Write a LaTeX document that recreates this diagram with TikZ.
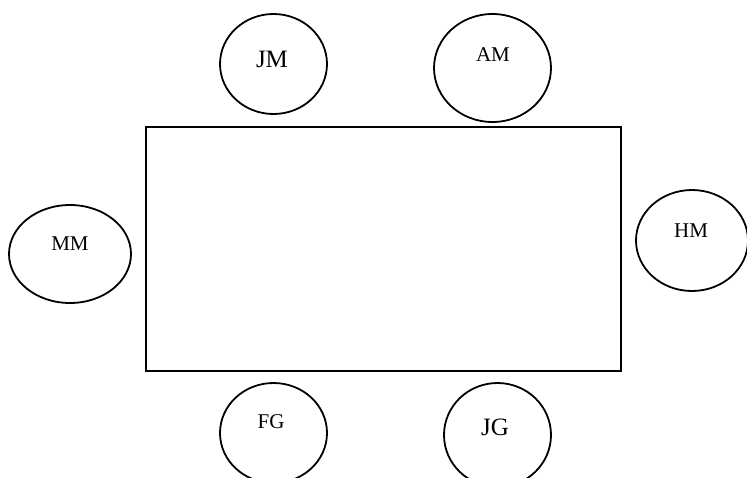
\documentclass[tikz,border=0pt]{standalone}
\usepackage{fontspec}
\setmainfont{Liberation Serif}
\usetikzlibrary{shapes.geometric}
\begin{document}
\begin{tikzpicture}[x=1pt,y=-1pt,
  seat/.style={draw=black, line width=1.8pt, ellipse, inner sep=0pt},
  lab/.style={font=\fontsize{21}{21}\selectfont, inner sep=0pt},
  labbig/.style={font=\fontsize{25}{25}\selectfont, inner sep=0pt}]
\useasboundingbox (0,0) rectangle (747,477);
\node[draw=black, line width=1.8pt, minimum width=475pt, minimum height=244pt, inner sep=0pt] (table) at (383.5,249) {};
\node[seat, minimum width=107pt, minimum height=100pt] (jm) at (273.5,64) {};
\node[seat, minimum width=117pt, minimum height=108pt] (am) at (492.5,68) {};
\node[seat, minimum width=122pt, minimum height=98pt] (mm) at (70,254) {};
\node[seat, minimum width=112pt, minimum height=101pt] (hm) at (692,240.5) {};
\node[seat, minimum width=107pt, minimum height=100pt] (fg) at (273.5,433) {};
\node[seat, minimum width=107pt, minimum height=104pt] (jg) at (497.5,435) {};
\node[labbig] (jmt) at (272,59) {JM};
\node[lab] (amt) at (493,55) {AM};
\node[lab] (mmt) at (70,244) {MM};
\node[lab] (hmt) at (691,231) {HM};
\node[lab] (fgt) at (271,422) {FG};
\node[labbig] (jgt) at (495,427) {JG};
\end{tikzpicture}
\end{document}
